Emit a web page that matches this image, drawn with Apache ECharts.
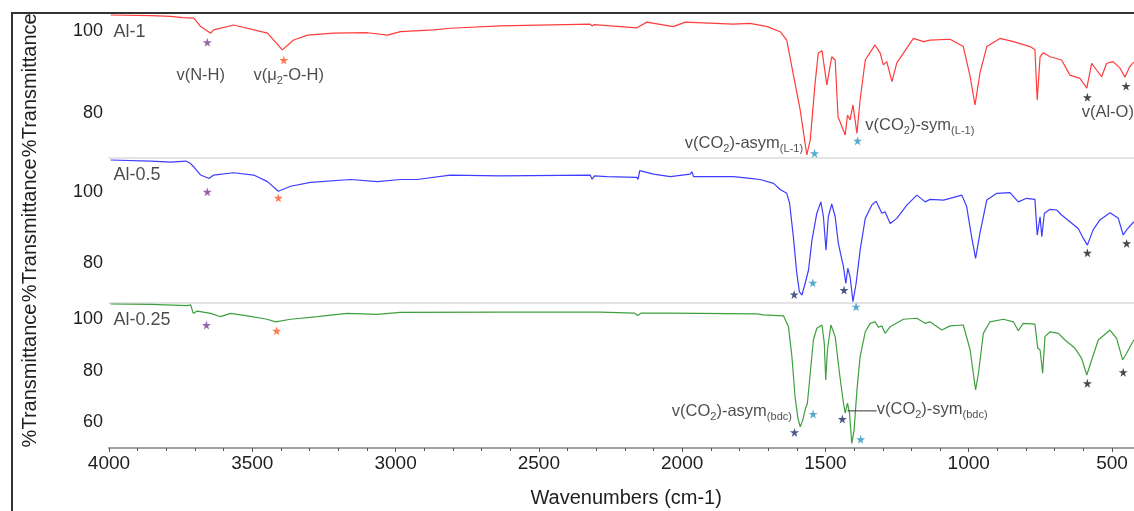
<!DOCTYPE html>
<html><head><meta charset="utf-8">
<script src="https://cdn.jsdelivr.net/npm/echarts@6/dist/echarts.min.js"></script>
<style>html,body{margin:0;padding:0;background:#fff}#c{width:1134px;height:511px}</style>
</head><body><div id="c"></div>
<script>
// ---- data (wavenumber cm-1, %T) ----
const al1 = [[3994,104.05],[3854,103.9],[3784,103.7],[3743,103.4],[3704,103.3],[3680,101.2],[3645,99.6],[3635,100.4],[3565,101.6],[3447,99.6],[3395,95.5],[3356,97.9],[3307,99.1],[3216,99.6],[3098,99.7],[3028,99.1],[2983,99.95],[2868,100.4],[2809,100.8],[2634,101.4],[2321,101.8],[2314,101.35],[2307,101.7],[2158,100.9],[2123,102.3],[2031,101.2],[1989,102.3],[1822,101.8],[1763,102.0],[1703,101.2],[1658,99.95],[1635,97.9],[1613,89.8],[1588,80.7],[1565,69.7],[1553,73.4],[1536,87.4],[1525,94.7],[1512,95.3],[1495,86.9],[1478,93.8],[1466,93.0],[1456,79.1],[1431,74.6],[1423,79.5],[1414,78.3],[1404,82.0],[1390,75.0],[1379,83.2],[1361,93.0],[1327,96.7],[1309,94.7],[1298,91.8],[1286,92.6],[1268,87.7],[1251,92.3],[1193,98.3],[1158,97.5],[1135,97.9],[1065,98.1],[1019,96.3],[995,88.9],[978,82.0],[961,89.7],[937,96.3],[891,98.3],[844,97.5],[786,96.3],[769,95.5],[761,83.2],[751,93.8],[740,94.8],[716,93.8],[676,93.0],[647,89.3],[612,88.5],[588,86.1],[571,92.2],[554,90.55],[536,88.9],[519,92.2],[496,92.6],[472,91.0],[455,88.8],[438,91.4],[424,92.5]];
const al05 = [[3994,108.9],[3854,108.6],[3784,108.3],[3732,108.6],[3715,107.9],[3705,107.0],[3680,104.65],[3651,103.7],[3635,104.65],[3565,105.3],[3495,104.65],[3447,102.8],[3409,100.1],[3366,101.5],[3297,102.6],[3157,103.4],[3064,102.8],[2983,103.4],[2925,103.4],[2809,104.65],[2634,104.45],[2321,104.65],[2314,103.5],[2306,104.4],[2262,104.2],[2158,104.0],[2154,103.4],[2148,105.9],[2100,104.9],[2041,104.2],[1972,104.9],[1966,105.6],[1960,104.2],[1821,104.2],[1763,103.7],[1728,103.4],[1681,102.3],[1658,100.6],[1635,99.5],[1625,96.7],[1612,87.3],[1600,77.0],[1591,71.8],[1582,70.85],[1571,74.1],[1559,77.9],[1547,86.3],[1530,93.9],[1516,97.1],[1507,92.9],[1498,83.5],[1490,92.9],[1478,96.5],[1466,92.9],[1455,85.4],[1437,78.8],[1429,74.1],[1422,78.4],[1414,76.0],[1404,69.0],[1393,74.1],[1379,83.5],[1361,92.45],[1338,96.2],[1323,97.3],[1303,93.9],[1292,94.3],[1274,91.0],[1251,92.45],[1216,96.2],[1181,99.0],[1152,97.1],[1135,97.8],[1088,97.6],[1065,98.1],[1024,99.0],[1007,95.7],[990,87.3],[976,81.2],[961,88.2],[937,97.6],[902,99.5],[856,99.7],[827,97.1],[798,98.1],[769,97.8],[761,87.75],[751,92.9],[745,87.3],[736,93.9],[716,95.0],[693,94.8],[676,93.4],[647,91.5],[618,89.6],[600,86.8],[586,84.9],[566,89.2],[542,92.0],[507,94.0],[478,92.45],[461,87.75],[449,89.2],[424,91.5]];
const al025 = [[3994,106.05],[3854,105.9],[3727,105.4],[3715,105.7],[3706,102.4],[3692,103.3],[3645,102.4],[3611,101.1],[3576,102.4],[3517,101.4],[3448,100.1],[3419,99.1],[3366,100.1],[3273,101.1],[3169,102.4],[3064,102.0],[2983,102.8],[2634,102.9],[2286,102.9],[2167,102.5],[2155,101.6],[2143,102.5],[2048,102.5],[1739,102.2],[1716,101.8],[1646,101.4],[1629,97.2],[1617,85.5],[1606,69.8],[1596,61.4],[1588,58.1],[1579,60.7],[1571,64.65],[1563,67.3],[1553,79.0],[1542,92.0],[1530,96.6],[1512,97.85],[1504,90.7],[1499,76.4],[1493,88.1],[1481,97.85],[1466,93.3],[1451,79.0],[1437,67.3],[1431,63.4],[1423,67.3],[1416,63.4],[1408,51.6],[1400,56.8],[1390,72.5],[1379,85.5],[1361,95.2],[1344,98.5],[1327,99.1],[1315,96.95],[1303,97.5],[1292,94.6],[1274,97.2],[1228,100.1],[1181,100.5],[1152,98.5],[1135,99.1],[1094,95.9],[1065,97.5],[1019,97.85],[995,88.1],[984,79.0],[976,72.5],[966,79.0],[949,94.6],[926,99.1],[879,100.1],[844,99.1],[827,95.6],[810,98.5],[769,98.2],[759,88.75],[751,88.1],[742,79.0],[734,93.3],[716,95.2],[687,94.6],[664,92.0],[629,88.75],[606,84.8],[588,78.3],[571,84.2],[548,92.0],[507,95.9],[484,92.65],[463,84.2],[449,86.8],[424,92.0]];

const sampleNames = ['Al-1', 'Al-0.5', 'Al-0.25'];
const sampleNameAt = [[3984, 99.95], [3984, 104.65], [3984, 99.8]];

// y ranges and ticks per panel
const yRanges = [[69.08, 104.54], [68.6, 109.6], [49.8, 106.45]];
const yTickValues = [[70,75,80,85,90,95,100],[70,75,80,85,90,95,100,105],[50,55,60,65,70,75,80,85,90,95,100,105]];
const yLabelValues = [[80,100],[80,100],[60,80,100]];
const xTickStep = 500;

// stars per panel
const starNH   = [[[3657, 97.35]], [[3657, 99.95]], [[3660, 97.85]]];
const starOH   = [[[3390, 93.0]], [[3409, 98.25]], [[3415, 95.6]]];
const starTeal = [[[1538, 70.1], [1388, 73.2]], [[1544, 74.3], [1393, 67.55]], [[1543, 63.1], [1377, 53.2]]];
const starNavy = [[], [[1609, 71.0], [1435, 72.25]], [[1608, 55.9], [1441, 61.1]]];
const starAlO  = [[[586, 83.85], [451, 86.6]], [[586, 82.76], [449, 85.4]], [[586, 75.1], [461, 79.4]]];

// annotation texts per panel: [text, wavenumber, %T]
const notes = [
  [['v(N-H)', 3680, 89.1], ['v(μ{s|2}-O-H)', 3373, 89.1], ['v(CO{s|2})-asym{s|(L-1)}', 1578, 72.6], ['v(CO{s|2})-sym{s|(L-1)}', 1361, 77.0], ['v(Al-O)', 606, 80.25]],
  [],
  [['v(CO{s|2})-asym{s|(bdc)}', 1617, 64.0], ['v(CO{s|2})-sym{s|(bdc)}', 1321, 64.8]]
];
const noteAlign = [['center','center','right','left','left'], [], ['right','left']];
const leader = [[1423, 64.3], [1321, 64.3]];

// ---- layout / styles ----
const FONT = 'Liberation Sans, Arial, sans-serif';
const TXT = '#1e1e1e';
const grids = [{top: 13, height: 144.5}, {top: 157.5, height: 145.5}, {top: 303, height: 145}];
const colors = ['#ff3b3b', '#3d3dff', '#3f9f3f'];
const STAR = 'path://M50,0 L61,35 L98,35 L68,57 L79,91 L50,70 L21,91 L32,57 L2,35 L39,35 Z';
const series = [al1, al05, al025];

const option = {
  animation: false,
  backgroundColor: '#fff',
  textStyle: {fontFamily: FONT},
  grid: grids.map(g => ({left: 109, width: 1146.3, top: g.top, height: g.height, containLabel: false, outerBoundsMode: 'none'})),
  xAxis: grids.map((g, i) => {
    const last = i === 2;
    return {
      type: 'value', gridIndex: i, min: 0, max: 4000, inverse: true, interval: xTickStep,
      axisLine: {show: true, lineStyle: {color: last ? '#a0a0a0' : '#e4e4e4', width: 2}},
      axisTick: {show: last, length: 4, lineStyle: {color: '#555'}},
      minorTick: {show: last, splitNumber: 5, length: 3, lineStyle: {color: '#555'}},
      axisLabel: {show: last, fontSize: 19, color: TXT, margin: 6, fontFamily: FONT, formatter: v => String(v)},
      splitLine: {show: false},
      name: last ? 'Wavenumbers (cm-1)' : '',
      nameLocation: 'middle', nameGap: 40,
      nameTextStyle: {fontSize: 20, color: TXT, fontFamily: FONT, padding: [0, 112, 0, 0]}
    };
  }),
  yAxis: grids.map((g, i) => ({
    type: 'value', gridIndex: i, min: yRanges[i][0], max: yRanges[i][1],
    axisLine: {show: true, lineStyle: {color: '#a8a8a8', width: 2}},
    axisTick: {show: true, length: 4, lineStyle: {color: '#555'}, customValues: yTickValues[i]},
    axisLabel: {fontSize: 18, color: TXT, margin: 6, fontFamily: FONT, customValues: yLabelValues[i], formatter: v => String(v)},
    splitLine: {show: false},
    name: '%Transmittance', nameLocation: 'middle', nameGap: 69,
    nameTextStyle: {fontSize: 20, color: TXT, fontFamily: FONT}
  })),
  graphic: [{
    type: 'polyline', z: 100, silent: true,
    shape: {points: [[12, 511], [12, 13], [1134, 13]]},
    style: {stroke: '#333', lineWidth: 2, fill: null}
  }],
  series: []
};

const rich = {s: {fontSize: 11, lineHeight: 12, verticalAlign: 'bottom', color: TXT, fontFamily: FONT}};

series.forEach((d, i) => {
  option.series.push({
    type: 'line', xAxisIndex: i, yAxisIndex: i, data: d, showSymbol: false, symbol: 'none',
    lineStyle: {color: colors[i], width: 1.2}, z: 2
  });
  option.series.push({
    type: 'scatter', xAxisIndex: i, yAxisIndex: i, symbolSize: 0, clip: false,
    data: [{value: sampleNameAt[i], name: sampleNames[i]}],
    label: {show: true, position: 'inside', align: 'left', formatter: '{b}', fontSize: 18, color: TXT, fontFamily: FONT}
  });
  const starGroups = [[starNH, '#7d3f8f'], [starOH, '#ff5722'], [starTeal, '#2b93bf'], [starNavy, '#1c2d6b'], [starAlO, '#1a1a1a']];
  starGroups.forEach(([arr, col]) => {
    if (!arr[i].length) return;
    option.series.push({
      type: 'scatter', xAxisIndex: i, yAxisIndex: i, symbol: STAR, symbolSize: 9, clip: false, z: 5,
      itemStyle: {color: col}, data: arr[i]
    });
  });
  if (notes[i].length) {
    option.series.push({
      type: 'scatter', xAxisIndex: i, yAxisIndex: i, symbolSize: 0, clip: false, z: 6,
      data: notes[i].map((n, k) => ({value: [n[1], n[2]], name: n[0], label: {align: noteAlign[i][k]}})),
      label: {show: true, position: 'inside', formatter: p => p.name, fontSize: 16.5, lineHeight: 22, color: TXT, fontFamily: FONT, rich: rich}
    });
  }
});
option.series.push({
  type: 'line', xAxisIndex: 2, yAxisIndex: 2, data: leader, showSymbol: false, symbol: 'none',
  lineStyle: {color: '#333', width: 1}, z: 4
});

const chart = echarts.init(document.getElementById('c'), null, {renderer: 'canvas'});
chart.setOption(option);
</script></body></html>
